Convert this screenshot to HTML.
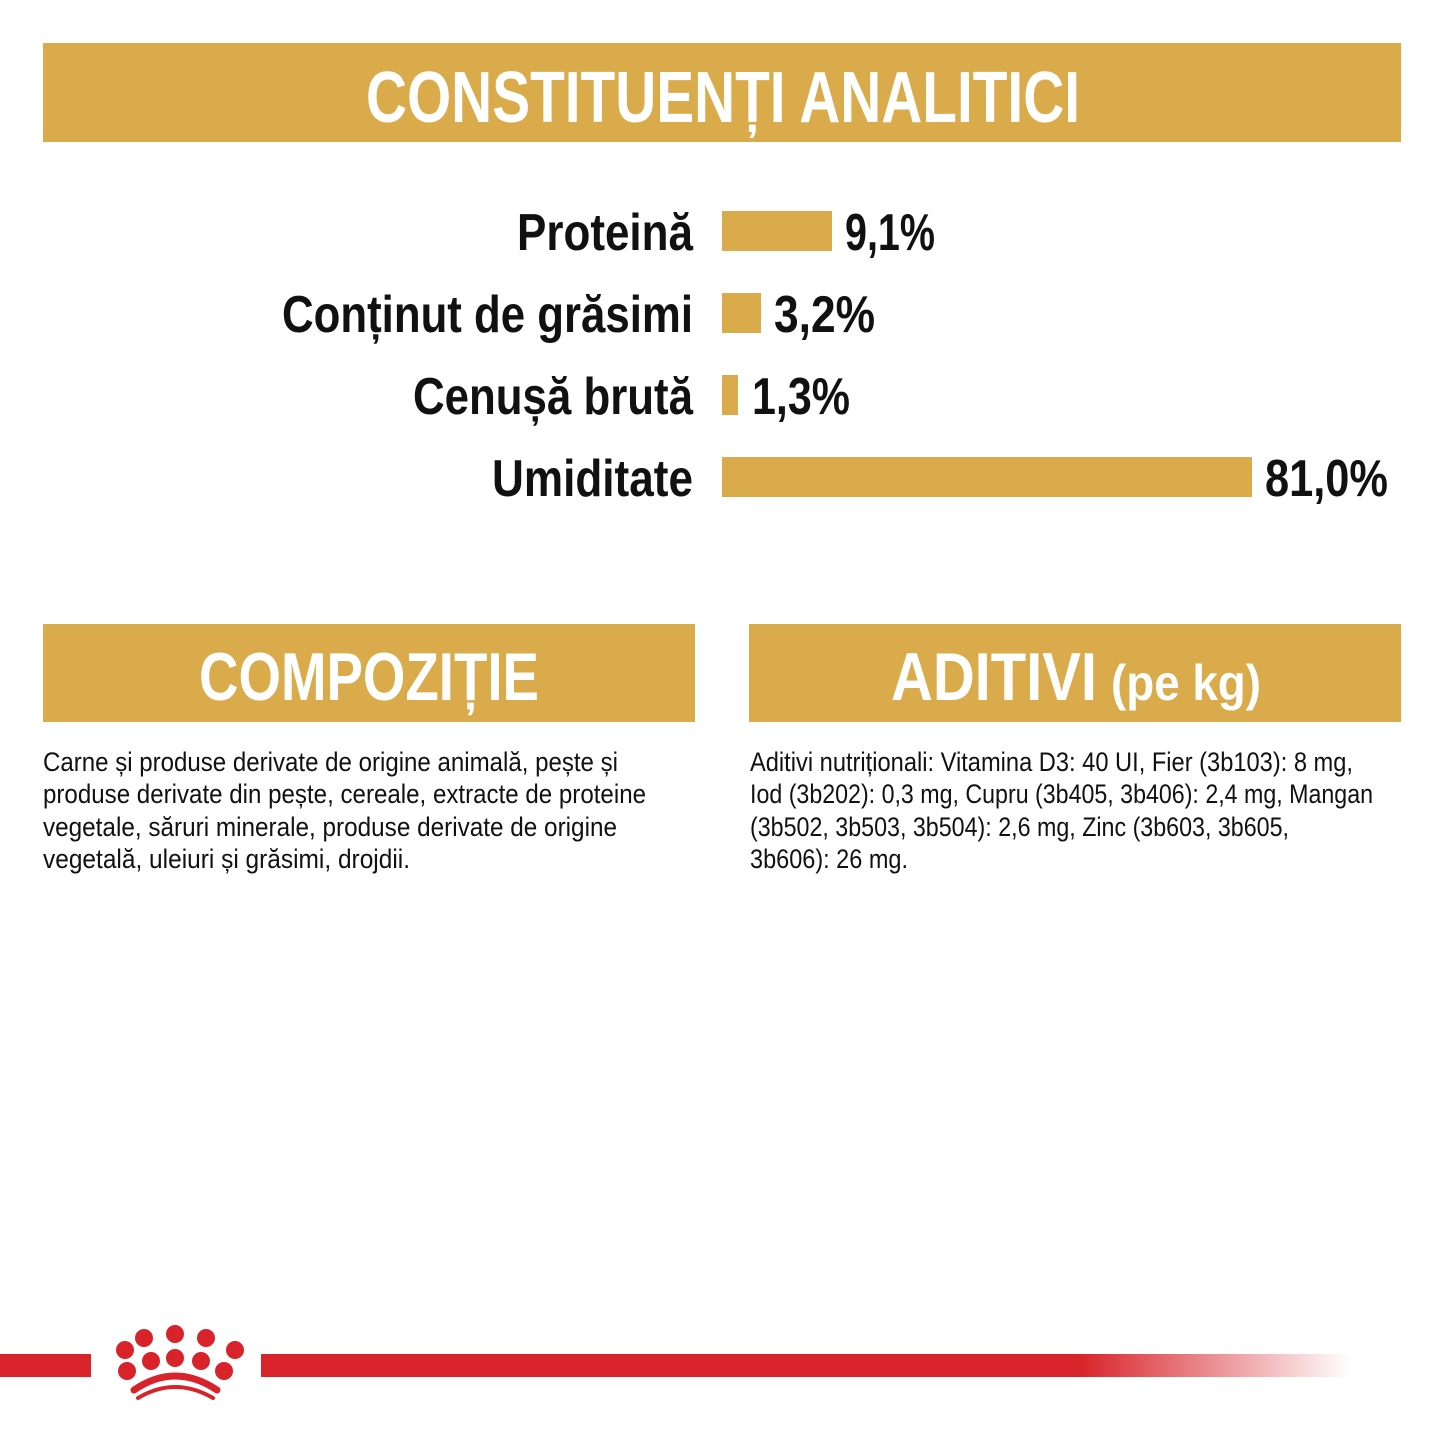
<!DOCTYPE html><html><head><meta charset="utf-8"><style>html,body{margin:0;padding:0;background:#fff}svg{display:block}</style></head><body>
<svg width="1445" height="1445" viewBox="0 0 1445 1445" xmlns="http://www.w3.org/2000/svg" font-family="Liberation Sans, sans-serif">
<defs><linearGradient id="g" x1="0" x2="1"><stop offset="0" stop-color="#d8232a"/><stop offset="0.75" stop-color="#d8232a"/><stop offset="1" stop-color="#d8232a" stop-opacity="0"/></linearGradient></defs>
<rect x="43" y="43" width="1358" height="99" fill="#d9ab4a"/>
<text x="366" y="122" font-size="72" font-weight="bold" fill="#fff" textLength="714" lengthAdjust="spacingAndGlyphs">CONSTITUENȚI ANALITICI</text>
<g font-size="52" font-weight="bold" fill="#111" text-anchor="end">
<text x="693" y="250" textLength="176" lengthAdjust="spacingAndGlyphs">Proteină</text>
<text x="693" y="332" textLength="411" lengthAdjust="spacingAndGlyphs">Conținut de grăsimi</text>
<text x="693" y="414" textLength="280" lengthAdjust="spacingAndGlyphs">Cenușă brută</text>
<text x="693" y="496" textLength="201" lengthAdjust="spacingAndGlyphs">Umiditate</text>
</g>
<g fill="#d9ab4a"><rect x="722" y="211" width="110" height="40"/><rect x="722" y="293" width="39" height="40"/><rect x="722" y="375" width="16" height="40"/><rect x="722" y="457" width="530" height="40"/></g>
<g font-size="52" font-weight="bold" fill="#111">
<text x="845" y="250" textLength="90" lengthAdjust="spacingAndGlyphs">9,1%</text>
<text x="774" y="332" textLength="101" lengthAdjust="spacingAndGlyphs">3,2%</text>
<text x="752" y="414" textLength="98" lengthAdjust="spacingAndGlyphs">1,3%</text>
<text x="1265" y="496" textLength="123" lengthAdjust="spacingAndGlyphs">81,0%</text>
</g>
<rect x="43" y="624" width="652" height="98" fill="#d9ab4a"/>
<rect x="749" y="624" width="652" height="98" fill="#d9ab4a"/>
<text x="199" y="700" font-size="68" font-weight="bold" fill="#fff" textLength="340" lengthAdjust="spacingAndGlyphs">COMPOZIȚIE</text>
<text x="891" y="700" font-size="68" font-weight="bold" fill="#fff" textLength="206" lengthAdjust="spacingAndGlyphs">ADITIVI</text>
<text x="1111" y="700" font-size="50" font-weight="bold" fill="#fff" textLength="150" lengthAdjust="spacingAndGlyphs">(pe kg)</text>
<g font-size="27" fill="#111">
<text x="43" y="771" textLength="575" lengthAdjust="spacingAndGlyphs">Carne și produse derivate de origine animală, pește și</text>
<text x="43" y="803" textLength="603" lengthAdjust="spacingAndGlyphs">produse derivate din pește, cereale, extracte de proteine</text>
<text x="43" y="836" textLength="574" lengthAdjust="spacingAndGlyphs">vegetale, săruri minerale, produse derivate de origine</text>
<text x="43" y="868" textLength="367" lengthAdjust="spacingAndGlyphs">vegetală, uleiuri și grăsimi, drojdii.</text>
<text x="750" y="771" textLength="603" lengthAdjust="spacingAndGlyphs">Aditivi nutriționali: Vitamina D3: 40 UI, Fier (3b103): 8 mg,</text>
<text x="750" y="803" textLength="623" lengthAdjust="spacingAndGlyphs">Iod (3b202): 0,3 mg, Cupru (3b405, 3b406): 2,4 mg, Mangan</text>
<text x="750" y="836" textLength="539" lengthAdjust="spacingAndGlyphs">(3b502, 3b503, 3b504): 2,6 mg, Zinc (3b603, 3b605,</text>
<text x="750" y="868" textLength="158" lengthAdjust="spacingAndGlyphs">3b606): 26 mg.</text>
</g>
<rect x="0" y="1354" width="91" height="23" fill="#d8232a"/>
<rect x="261" y="1354" width="1090" height="23" fill="url(#g)"/>
<g fill="#d8232a">
<circle cx="125" cy="1350" r="9"/><circle cx="144" cy="1338" r="9"/><circle cx="175" cy="1334" r="9"/><circle cx="206" cy="1338" r="9"/><circle cx="235" cy="1350" r="9"/>
<circle cx="127" cy="1371" r="9"/><circle cx="151" cy="1361" r="9"/><circle cx="175" cy="1358" r="9"/><circle cx="201" cy="1361" r="9"/><circle cx="224" cy="1371" r="9"/>
</g>
<path d="M134 1390 Q175 1362 217 1390" stroke="#d8232a" stroke-width="7" fill="none" stroke-linecap="round"/>
<path d="M138 1398 Q175 1376 213 1398" stroke="#d8232a" stroke-width="4" fill="none" stroke-linecap="round"/>
</svg></body></html>
